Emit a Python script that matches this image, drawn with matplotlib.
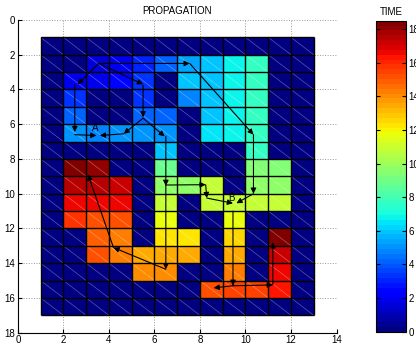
import numpy as np
import matplotlib
matplotlib.use("Agg")
import matplotlib.pyplot as plt

plt.rcParams['font.family'] = ['Liberation Sans', 'DejaVu Sans']

# cell edges of the grid (columns 1..13, rows 1..17)
x_edges = np.arange(1, 14)
y_edges = np.arange(1, 18)

# propagation time per cell, row by row from top (0 = wall)
time_grid = [
    [0, 0, 0, 0, 0, 0, 0, 0, 0, 0, 0, 0],
    [0, 0, 1.7, 2.0, 3.0, 4.1, 5.3, 5.9, 6.8, 7.7, 0, 0],
    [0, 1.8, 2.0, 2.4, 3.2, 0, 5.9, 5.9, 6.8, 7.7, 0, 0],
    [0, 3.2, 0, 0, 3.4, 0, 4.85, 5.9, 6.8, 7.7, 0, 0],
    [0, 4.3, 0, 0, 4.3, 4.3, 0, 5.9, 6.8, 7.7, 0, 0],
    [0, 5.0, 4.65, 5.0, 5.0, 5.0, 0, 6.6, 6.8, 7.7, 0, 0],
    [0, 0, 0, 0, 0, 6.0, 0, 0, 0, 7.8, 0, 0],
    [0, 18.5, 18.1, 0, 0, 8.9, 0, 0, 0, 9.3, 9.3, 0],
    [0, 17.5, 17.4, 17.3, 0, 9.6, 9.8, 10.9, 0, 9.7, 9.7, 0],
    [0, 16.5, 16.5, 16.5, 0, 10.9, 0, 10.9, 10.9, 10.9, 10.9, 0],
    [0, 15.8, 15.1, 15.1, 0, 11.6, 0, 0, 11.6, 0, 0, 0],
    [0, 0, 14.9, 14.2, 0, 12.4, 12.4, 0, 12.5, 0, 18.5, 0],
    [0, 0, 15.1, 14.2, 13.5, 13.3, 13.5, 0, 13.4, 0, 17.3, 0],
    [0, 0, 0, 0, 14.0, 14.0, 0, 0, 14.3, 0, 16.5, 0],
    [0, 0, 0, 0, 0, 0, 0, 15.2, 15.4, 15.5, 16.3, 0],
    [0, 0, 0, 0, 0, 0, 0, 0, 0, 0, 0, 0],
]

# propagation arrows (start -> end)
arrow_x0 = [3.55, 3.55, 3.55, 7.55, 2.5, 5.5, 5.5, 5.5, 4.65, 2.5, 6.5, 6.5,
            6.5, 8.25, 8.3, 10.35, 10.35, 9.45, 9.45, 9.45, 11.2, 6.5, 4.2]
arrow_y0 = [2.5, 2.5, 2.5, 2.5, 3.7, 3.75, 5.65, 5.65, 6.55, 6.6, 6.7, 9.5,
            9.5, 9.48, 10.25, 6.6, 10.0, 11.0, 15.3, 15.3, 15.25, 14.35, 13.1]
arrow_x1 = [2.62, 5.5, 7.55, 10.35, 2.5, 5.5, 4.65, 6.45, 3.6, 3.45, 6.5, 6.5,
            8.25, 8.3, 9.45, 10.35, 9.6, 9.45, 8.6, 11.2, 11.2, 4.2, 3.08]
arrow_y1 = [3.7, 3.7, 2.5, 6.6, 6.45, 5.6, 6.55, 6.7, 6.65, 6.65, 9.55, 14.35,
            9.48, 10.25, 10.55, 10.0, 10.55, 15.3, 15.42, 15.25, 12.8, 13.1, 8.9]

labels = ['A', 'B']
label_x = [3.4, 9.4]
label_y = [6.2, 10.25]

cmap = plt.get_cmap('jet', 64)

fig = plt.figure(figsize=(4.16, 3.48), dpi=100)
ax = fig.add_axes([0.043, 0.044, 0.766, 0.8985])

mesh = ax.pcolormesh(x_edges, y_edges, np.array(time_grid), cmap=cmap,
                     vmin=0, vmax=18.5, zorder=2)

# faint diagonal line through every cell
for r in range(len(y_edges) - 1):
    for c in range(len(x_edges) - 1):
        ax.plot([x_edges[c], x_edges[c + 1]], [y_edges[r], y_edges[r + 1]],
                color='white', lw=0.5, alpha=0.35, zorder=3)

# cell borders
ax.hlines(y_edges, x_edges[0], x_edges[-1], color='k', lw=1.0, zorder=3)
ax.vlines(x_edges, y_edges[0], y_edges[-1], color='k', lw=1.0, zorder=3)

for x0, y0, x1, y1 in zip(arrow_x0, arrow_y0, arrow_x1, arrow_y1):
    ax.annotate('', xy=(x1, y1), xytext=(x0, y0),
                arrowprops=dict(arrowstyle='-|>', color='k', lw=0.8,
                                mutation_scale=8, shrinkA=0, shrinkB=0),
                zorder=4)

for t, lx, ly in zip(labels, label_x, label_y):
    ax.text(lx, ly, t, fontsize=7, ha='center', va='center', zorder=5)

ax.set_xlim(0, 14)
ax.set_ylim(18, 0)
ax.set_xticks(range(0, 15, 2))
ax.set_yticks(range(0, 19, 2))
ax.grid(True, linestyle=':', color='#999999', linewidth=0.7)
ax.set_axisbelow(True)
ax.spines['top'].set_visible(False)
ax.spines['right'].set_visible(False)
ax.tick_params(direction='in', length=3, labelsize=7, pad=2)
ax.set_title('PROPAGATION', fontsize=7, pad=4)

cax = fig.add_axes([0.904, 0.047, 0.071, 0.8935])
cb = fig.colorbar(mesh, cax=cax, ticks=range(0, 19, 2))
cb.outline.set_linewidth(0.8)
cax.tick_params(direction='in', length=3, labelsize=7, left=True, right=True, pad=2)
cax.set_title('TIME', fontsize=7, pad=4)

fig.savefig('out.png', dpi=100)
